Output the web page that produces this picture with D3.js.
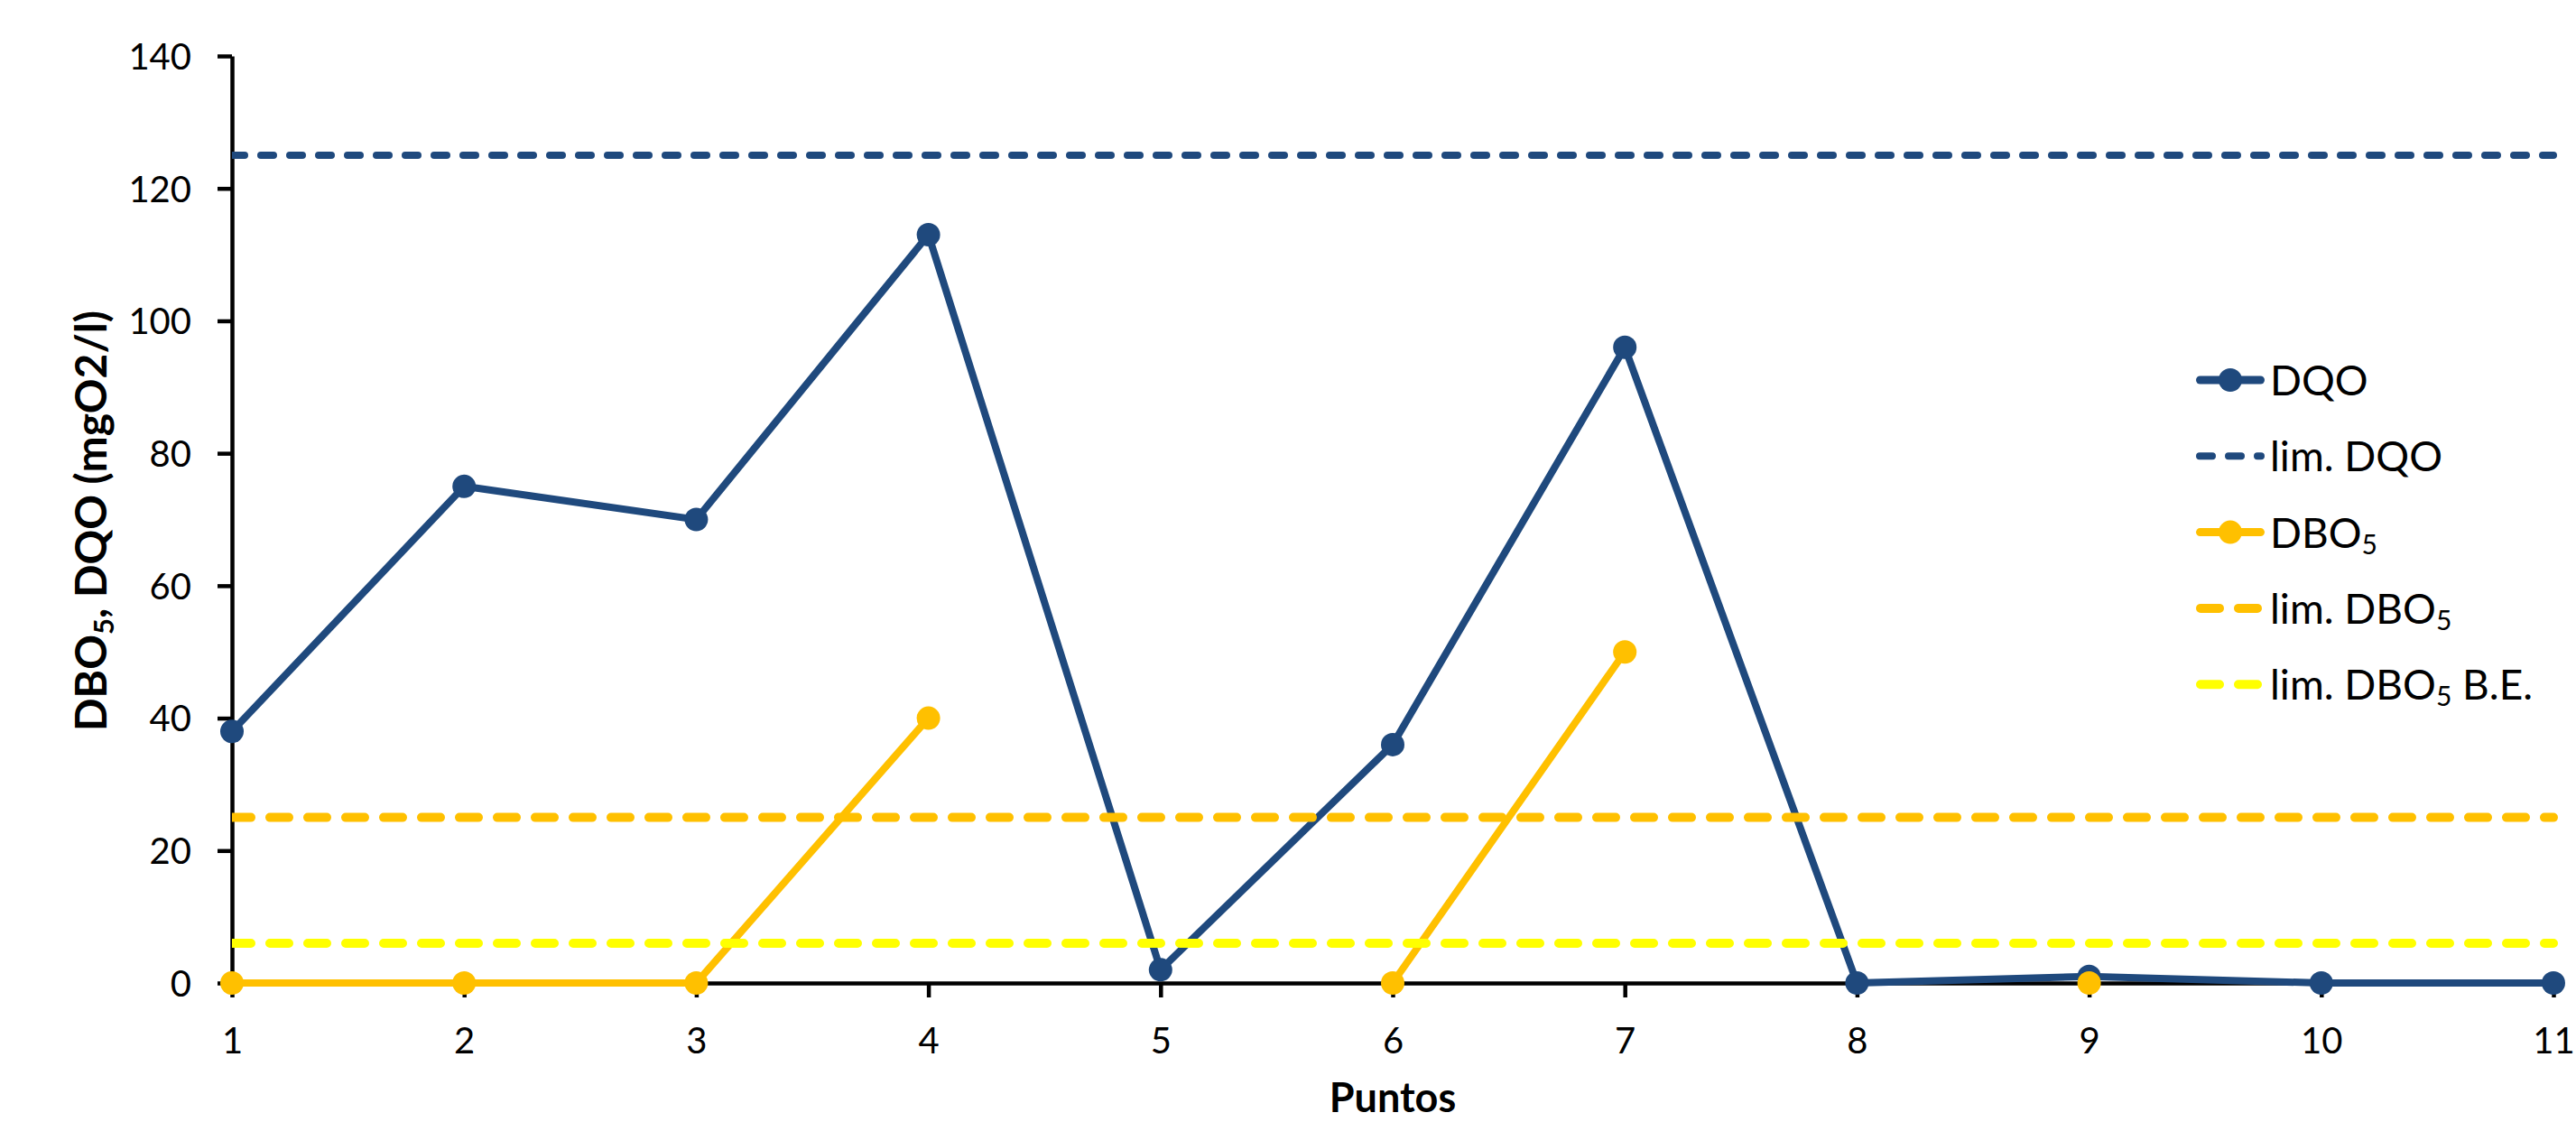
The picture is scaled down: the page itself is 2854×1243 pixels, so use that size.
<!DOCTYPE html>
<html>
<head>
<meta charset="utf-8">
<script src="https://cdn.jsdelivr.net/npm/d3@7"></script>
<style>
  html, body { margin: 0; padding: 0; background: #fff; }
  svg { display: block; }
  text { font-family: Lato, "Open Sans", sans-serif; fill: #000; }
</style>
</head>
<body>
<svg id="chart" width="2854" height="1243"></svg>
<script>
// ---- data ----
const puntos = [1, 2, 3, 4, 5, 6, 7, 8, 9, 10, 11];
const dqo    = [38, 75, 70, 113, 2, 36, 96, 0, 1, 0, 0];
const dbo5   = [0, 0, 0, 40, null, 0, 50, null, 0, null, null];
const limDQO = 125;
const limDBO5 = 25;
const limDBO5BE = 6;
const yTicks = [0, 20, 40, 60, 80, 100, 120, 140];
const legendLabels = [
  ["DQO", null, ""],
  ["lim. DQO", null, ""],
  ["DBO", "5", ""],
  ["lim. DBO", "5", ""],
  ["lim. DBO", "5", " B.E."]
];

// ---- layout ----
const W = 2854, H = 1243;
const plotL = 257, plotR = 2829, plotT = 62, plotB = 1089;
const BLUE = "#1F497D", ORANGE = "#FFC000", YELLOW = "#FFFF00";

const svg = d3.select("#chart");
const x = d3.scaleLinear().domain([1, 11]).range([plotL, plotR]);
const y = d3.scaleLinear().domain([0, 140]).range([plotB, plotT]);

// clip for limit lines
svg.append("defs").append("clipPath").attr("id", "plotclip")
  .append("rect").attr("x", plotL).attr("y", 0).attr("width", W - plotL).attr("height", H);

// axes
const yAxis = svg.append("g").attr("transform", `translate(${plotL},0)`)
  .call(d3.axisLeft(y).tickValues(yTicks).tickSize(16).tickSizeOuter(0).tickPadding(29));
yAxis.selectAll("path, line").attr("stroke", "#000").attr("stroke-width", 4.5);
yAxis.selectAll("text").attr("font-size", 40).attr("dy", "0.36em")
  .style("font-family", "Lato, sans-serif");

const xAxis = svg.append("g").attr("transform", `translate(0,${plotB})`)
  .call(d3.axisBottom(x).tickValues(puntos).tickFormat(d3.format("d")).tickSize(16).tickSizeOuter(0));
xAxis.selectAll("path, line").attr("stroke", "#000").attr("stroke-width", 4.5);
xAxis.selectAll("text").attr("font-size", 40).attr("dy", null).attr("y", 78)
  .style("font-family", "Lato, sans-serif");

// axis titles
const yl = svg.append("text")
  .attr("transform", `translate(118,577) rotate(-90)`)
  .attr("text-anchor", "middle")
  .attr("font-size", 48).attr("font-weight", "bold");
yl.append("tspan").text("DBO");
yl.append("tspan").text("5").attr("font-size", 31).attr("dy", 8);
yl.append("tspan").text(", DQO (mgO2/l)").attr("dy", -8);

svg.append("text").attr("x", (plotL + plotR) / 2).attr("y", 1232)
  .attr("text-anchor", "middle").attr("font-size", 45).attr("font-weight", "bold")
  .text("Puntos");

// ---- series ----
const line = d3.line().defined(d => d[1] != null).x(d => x(d[0])).y(d => y(d[1]));

function drawSeries(vals, color) {
  const pts = puntos.map((p, i) => [p, vals[i]]);
  svg.append("path").datum(pts).attr("d", line)
    .attr("fill", "none").attr("stroke", color).attr("stroke-width", 8)
    .attr("stroke-linejoin", "round").attr("stroke-linecap", "round");
  svg.append("g").selectAll("circle").data(pts.filter(d => d[1] != null)).join("circle")
    .attr("cx", d => x(d[0])).attr("cy", d => y(d[1])).attr("r", 13).attr("fill", color);
}
function drawLimit(v, color, width, dash) {
  svg.append("line").attr("clip-path", "url(#plotclip)")
    .attr("x1", x(1)).attr("x2", x(11)).attr("y1", y(v)).attr("y2", y(v))
    .attr("stroke", color).attr("stroke-width", width)
    .attr("stroke-dasharray", dash).attr("stroke-linecap", "round");
}

drawSeries(dqo, BLUE);
drawLimit(limDQO, BLUE, 8, "14,18");
drawSeries(dbo5, ORANGE);
drawLimit(limDBO5, ORANGE, 10, "21,21");
drawLimit(limDBO5BE, YELLOW, 10, "21,21");

// ---- legend ----
const legTop = 421, legStep = 84.3;
const lx1 = 2433, lx2 = 2509, ltx = 2515;
const legStyles = [
  {color: BLUE, w: 9, dash: null, marker: true},
  {color: BLUE, w: 8, dash: "14,18", marker: false},
  {color: ORANGE, w: 9, dash: null, marker: true},
  {color: ORANGE, w: 10, dash: "21,21", marker: false},
  {color: YELLOW, w: 10, dash: "21,21", marker: false}
];
const leg = svg.append("g");
legendLabels.forEach((lab, i) => {
  const yy = legTop + i * legStep;
  const st = legStyles[i];
  const inset = st.w / 2;
  leg.append("line").attr("x1", lx1 + inset).attr("x2", lx2 - inset)
    .attr("y1", yy).attr("y2", yy)
    .attr("stroke", st.color).attr("stroke-width", st.w)
    .attr("stroke-linecap", "round")
    .attr("stroke-dasharray", st.dash);
  if (st.marker) {
    leg.append("circle").attr("cx", (lx1 + lx2) / 2).attr("cy", yy).attr("r", 13).attr("fill", st.color);
  }
  const t = leg.append("text").attr("x", ltx).attr("y", yy + 17).attr("font-size", 46);
  t.append("tspan").text(lab[0]);
  if (lab[1]) {
    t.append("tspan").text(lab[1]).attr("font-size", 30).attr("dy", 7);
    if (lab[2]) t.append("tspan").text(lab[2]).attr("font-size", 46).attr("dy", -7);
  }
});
</script>
</body>
</html>
